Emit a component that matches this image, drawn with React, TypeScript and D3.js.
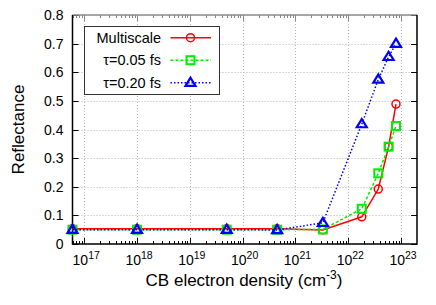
import { useEffect, useRef } from "react";
import * as d3 from "d3";

// electron densities (cm^-3), shared by all series
const density = [6e16, 1e18, 5e19, 4.5e20, 3.3e21, 1.8e22, 3.7e22, 5.8e22, 8e22];
const multiscale = [0.053, 0.053, 0.053, 0.053, 0.049, 0.095, 0.192, 0.34, 0.489];
const tau005 = [0.05, 0.05, 0.05, 0.05, 0.051, 0.123, 0.247, 0.34, 0.412];
const tau020 = [0.05, 0.05, 0.05, 0.049, 0.074, 0.419, 0.575, 0.654, 0.7];
const yTicks = [0, 0.1, 0.2, 0.3, 0.4, 0.5, 0.6, 0.7, 0.8];
const xDecades = [17, 18, 19, 20, 21, 22, 23];

const seriesNames = ["Multiscale", "τ=0.05 fs", "τ=0.20 fs"];

export default function App() {
  const svgRef = useRef<SVGSVGElement>(null);

  useEffect(() => {
    if (!svgRef.current) return;
    const width = 436;
    const height = 305;
    const margin = { top: 15, right: 19, bottom: 61, left: 72.5 };
    const font = "'Liberation Sans', Arial, Helvetica, sans-serif";

    const svg = d3.select(svgRef.current);
    svg.selectAll("*").remove();
    svg.attr("width", width).attr("height", height);

    const x = d3
      .scaleLog()
      .domain([6e16, 2e23])
      .range([margin.left, width - margin.right]);
    const y = d3
      .scaleLinear()
      .domain([0, 0.8])
      .range([height - margin.bottom, margin.top]);

    const [x0, x1] = x.range();
    const [y0, y1] = y.range();

    // grid
    const grid = svg.append("g").attr("stroke", "#b4b4b4").attr("stroke-width", 1).attr("stroke-dasharray", "1,2");
    xDecades.forEach((d) => {
      const px = Math.round(x(10 ** d)) + 0.5;
      grid.append("line").attr("x1", px).attr("x2", px).attr("y1", y0).attr("y2", y1);
    });
    yTicks.slice(1, -1).forEach((v) => {
      const py = Math.round(y(v)) + 0.5;
      grid.append("line").attr("x1", x0).attr("x2", x1).attr("y1", py).attr("y2", py);
    });

    // ticks
    const ticks = svg.append("g").attr("stroke", "#000").attr("stroke-width", 1);
    yTicks.forEach((v) => {
      const py = Math.round(y(v)) + 0.5;
      ticks.append("line").attr("x1", x0).attr("x2", x0 + 6).attr("y1", py).attr("y2", py);
      ticks.append("line").attr("x1", x1).attr("x2", x1 - 6).attr("y1", py).attr("y2", py);
    });
    for (let d = 16; d <= 23; d++) {
      for (let m = 1; m <= 9; m++) {
        const v = m * 10 ** d;
        if (v < 6e16 || v > 2e23) continue;
        const px = Math.round(x(v)) + 0.5;
        const len = m === 1 ? 6 : 3;
        ticks.append("line").attr("x1", px).attr("x2", px).attr("y1", y0).attr("y2", y0 - len);
        ticks.append("line").attr("x1", px).attr("x2", px).attr("y1", y1).attr("y2", y1 + len).attr("stroke", "#888");
      }
    }

    // border
    svg.append("line").attr("x1", x0).attr("x2", x1).attr("y1", y1).attr("y2", y1).attr("stroke", "#888").attr("stroke-width", 1.5);
    svg.append("path")
      .attr("d", `M${x1},${y1}V${y0}H${x0}V${y1}`)
      .attr("fill", "none")
      .attr("stroke", "#000")
      .attr("stroke-width", 1.5);

    // tick labels
    const labels = svg.append("g").style("font-family", font).attr("fill", "#000");
    yTicks.forEach((v) => {
      labels
        .append("text")
        .attr("x", x0 - 9)
        .attr("y", y(v))
        .attr("dy", "0.36em")
        .attr("text-anchor", "end")
        .style("font-size", "14px")
        .text(v === 0 ? "0" : d3.format(".1f")(v));
    });
    xDecades.forEach((d) => {
      const t = labels
        .append("text")
        .attr("x", x(10 ** d) + 2)
        .attr("y", 265)
        .attr("text-anchor", "middle")
        .style("font-size", "14px");
      t.append("tspan").text("10");
      t.append("tspan").attr("dy", -6).style("font-size", "10.5px").text(String(d));
    });

    // axis titles
    labels
      .append("text")
      .attr("transform", `translate(24,${(y0 + y1) / 2}) rotate(-90)`)
      .attr("text-anchor", "middle")
      .style("font-size", "17px")
      .text("Reflectance");
    const xt = labels
      .append("text")
      .attr("x", 244)
      .attr("y", 286)
      .attr("text-anchor", "middle")
      .style("font-size", "17px");
    xt.append("tspan").text("CB electron density (cm");
    xt.append("tspan").attr("dy", -7).style("font-size", "12px").text("-3");
    xt.append("tspan").attr("dy", 7).text(")");

    // series
    const series = [
      { name: seriesNames[0], values: multiscale, color: "#ff0000", dash: null as string | null, marker: "circle" },
      { name: seriesNames[1], values: tau005, color: "#00ee00", dash: "3,2", marker: "square" },
      { name: seriesNames[2], values: tau020, color: "#0000ff", dash: "1.5,2", marker: "triangle" },
    ];

    const line = d3
      .line<number>()
      .x((_, i) => x(density[i]))
      .y((v) => y(v));

    const drawMarker = (g: d3.Selection<SVGGElement, unknown, null, undefined>, kind: string, cx: number, cy: number, color: string) => {
      if (kind === "circle") {
        g.append("circle").attr("cx", cx).attr("cy", cy).attr("r", 4).attr("fill", "none").attr("stroke", color).attr("stroke-width", 1.5);
      } else if (kind === "square") {
        g.append("rect").attr("x", cx - 4).attr("y", cy - 4).attr("width", 8).attr("height", 8).attr("fill", "none").attr("stroke", color).attr("stroke-width", 2);
      } else {
        g.append("path")
          .attr("d", `M${cx},${cy - 5}L${cx + 5},${cy + 3.2}L${cx - 5},${cy + 3.2}Z`)
          .attr("fill", "none")
          .attr("stroke", color)
          .attr("stroke-width", 2.2);
      }
    };

    const plot = svg.append("g");
    series.forEach((s) => {
      const g = plot.append("g");
      g.append("path")
        .attr("d", line(s.values))
        .attr("fill", "none")
        .attr("stroke", s.color)
        .attr("stroke-width", 1.5)
        .attr("stroke-dasharray", s.dash);
      s.values.forEach((v, i) => drawMarker(g, s.marker, x(density[i]), y(v), s.color));
    });

    // legend
    const legend = svg.append("g");
    legend
      .append("rect")
      .attr("x", 84.5)
      .attr("y", 26.5)
      .attr("width", 135)
      .attr("height", 68)
      .attr("fill", "#fff")
      .attr("stroke", "#333")
      .attr("stroke-width", 1);
    series.forEach((s, i) => {
      const cy = 37.7 + i * 22.5;
      legend
        .append("text")
        .attr("x", 161)
        .attr("y", cy)
        .attr("dy", "0.36em")
        .attr("text-anchor", "end")
        .style("font-family", font)
        .style("font-size", "14.5px")
        .text(s.name);
      const lg = legend.append("g");
      lg.append("line")
        .attr("x1", 170.5)
        .attr("x2", 211)
        .attr("y1", cy)
        .attr("y2", cy)
        .attr("stroke", s.color)
        .attr("stroke-width", 1.5)
        .attr("stroke-dasharray", s.dash);
      drawMarker(lg, s.marker, 190.5, cy, s.color);
    });
  }, []);

  return (
    <div style={{ position: "absolute", left: 0, top: 0 }}>
      <svg ref={svgRef} style={{ display: "block", background: "#fff" }} />
    </div>
  );
}
